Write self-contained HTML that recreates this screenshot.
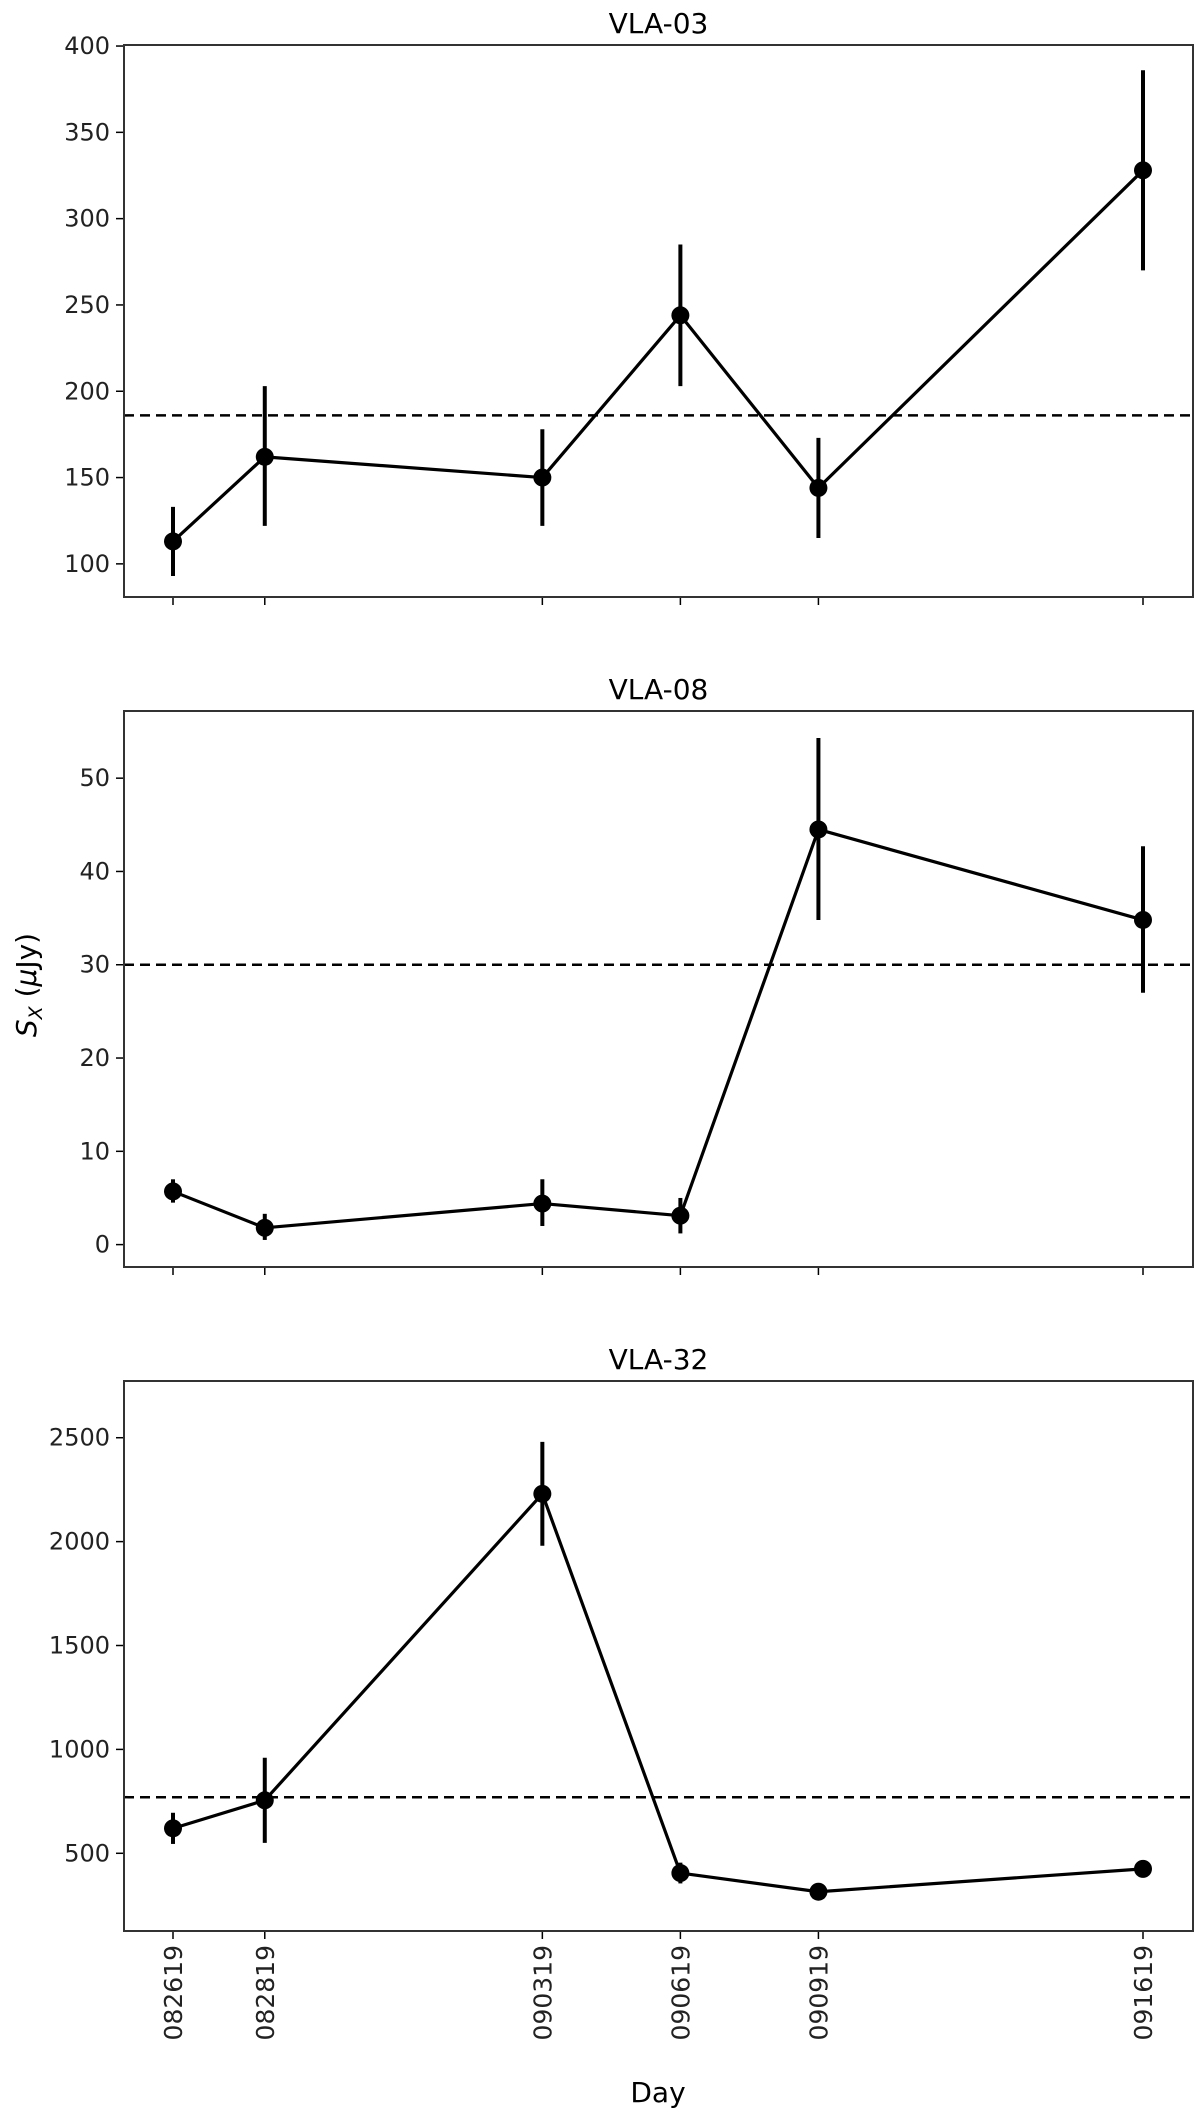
<!DOCTYPE html>
<html><head><meta charset="utf-8">
<style>
html,body{margin:0;padding:0;background:#fff;}
svg{display:block;font-family:"DejaVu Sans","Liberation Sans",sans-serif;}
</style></head>
<body>
<svg id="chart" width="1200" height="2117" viewBox="0 0 1200 2117" xmlns="http://www.w3.org/2000/svg">
<text transform="translate(36,985) rotate(-90)" text-anchor="middle" font-size="28" fill="#000"><tspan font-style="italic">S</tspan><tspan font-style="italic" font-size="19" dy="6">X</tspan><tspan dy="-6"> (</tspan><tspan font-style="italic">μ</tspan><tspan>Jy)</tspan></text>
<text x="658" y="2102" text-anchor="middle" font-size="28" fill="#000">Day</text>
</svg>
<script>
const days = ["082619","082819","090319","090619","090919","091619"];
const dayPos = [0, 2.46, 9.9, 13.6, 17.3, 26];
const titles = ["VLA-03","VLA-08","VLA-32"];
const v03 = [113,162,150,244,144,328];
const e03lo = [93,122,122,203,115,270];
const e03hi = [133,203,178,285,173,386];
const v08 = [5.7,1.8,4.4,3.1,44.5,34.8];
const e08lo = [4.5,0.5,2.0,1.2,34.8,27.0];
const e08hi = [7.0,3.3,7.0,5.0,54.3,42.7];
const v32 = [620,755,2230,405,315,425];
const e32lo = [545,550,1980,355,285,385];
const e32hi = [695,960,2480,455,345,465];
const means = [186,30,770];
const ticks03 = [100,150,200,250,300,350,400];
const ticks08 = [0,10,20,30,40,50];
const ticks32 = [500,1000,1500,2000,2500];

const NS="http://www.w3.org/2000/svg";
const svg=document.getElementById('chart');
function mk(tag,attrs,parent){const e=document.createElementNS(NS,tag);for(const k in attrs)e.setAttribute(k,attrs[k]);(parent||svg).appendChild(e);return e;}

const L=124,R=1193;
const xScale=i=>{const p=dayPos[i];const mx=dayPos[dayPos.length-1];return 173+(1143-173)*p/mx;};
const panels=[
 {top:45,bot:597,ymin:80.8,ymax:400.6,v:v03,lo:e03lo,hi:e03hi,ticks:ticks03},
 {top:711,bot:1267,ymin:-2.4,ymax:57.2,v:v08,lo:e08lo,hi:e08hi,ticks:ticks08},
 {top:1381,bot:1931,ymin:126,ymax:2773,v:v32,lo:e32lo,hi:e32hi,ticks:ticks32}
];
panels.forEach((p,pi)=>{
  const g=mk('g',{});
  
  
  const y=v=>p.bot-(v-p.ymin)/(p.ymax-p.ymin)*(p.bot-p.top);
  const t=mk('text',{x:(L+R)/2,y:p.top-12,'text-anchor':'middle','font-size':28,fill:'#000'},g);
  t.textContent=titles[pi];
  
  
  p.ticks.forEach(tv=>{
    const yy=y(tv);
    const tk=mk('line',{x1:L-8,x2:L,y1:yy,y2:yy,stroke:'#000','stroke-width':1.5},g);
    
    
    const tl=mk('text',{x:L-14,y:yy+8,'text-anchor':'end','font-size':24,fill:'#222'},g);
    tl.textContent=tv;
    
    
  });
  days.forEach((d,i)=>{
    const xx=xScale(i);
    const tk=mk('line',{x1:xx,x2:xx,y1:p.bot,y2:p.bot+8,stroke:'#000','stroke-width':1.5},g);
    
    
    if(pi===2){
      const tl=mk('text',{transform:`translate(${xx+9},${p.bot+14}) rotate(-90)`,'text-anchor':'end','font-size':25,fill:'#222'},g);
      tl.textContent=d;
      
      
    }
  });
  const ml=mk('line',{x1:L,x2:R,y1:y(means[pi]),y2:y(means[pi]),stroke:'#000','stroke-width':2.5,'stroke-dasharray':'10,6'},g);
  
  
  const pts=p.v.map((v,i)=>xScale(i)+','+y(v)).join(' ');
  const pl=mk('polyline',{points:pts,fill:'none',stroke:'#000','stroke-width':3.2,'stroke-linejoin':'round'},g);
  
  
  p.v.forEach((v,i)=>{
    const xx=xScale(i);
    const eb=mk('line',{x1:xx,x2:xx,y1:y(p.lo[i]),y2:y(p.hi[i]),stroke:'#000','stroke-width':4},g);
    
    
    const c=mk('circle',{cx:xx,cy:y(v),r:9,fill:'#000'},g);
    
    
  });
  const fr=mk('rect',{x:L,y:p.top,width:R-L,height:p.bot-p.top,fill:'none',stroke:'#333','stroke-width':2},g);
  
  
});
</script>
</body></html>
